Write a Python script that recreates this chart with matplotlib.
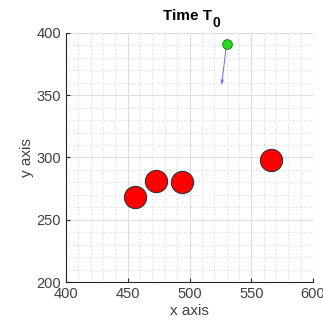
import matplotlib
matplotlib.use("Agg")
import matplotlib.pyplot as plt

# robot positions (red) and target (green) with its velocity arrow
robots_x = [456, 473, 494, 566]
robots_y = [268, 281, 280, 298]
target_x = [530]
target_y = [391]
arrow_dx = [-4]
arrow_dy = [-33]

plt.rcParams['font.family'] = ['Liberation Sans', 'DejaVu Sans']

fig = plt.figure(figsize=(3.23, 3.33), dpi=100)
ax = fig.add_axes([66 / 323, 1 - 282 / 333, 247 / 323, 249 / 333])

ax.set_xlim(400, 600)
ax.set_ylim(200, 400)
ax.set_xticks([400, 450, 500, 550, 600])
ax.set_yticks([200, 250, 300, 350, 400])
ax.set_xticks(range(400, 601, 10), minor=True)
ax.set_yticks(range(200, 401, 10), minor=True)
ax.grid(True, which='major', color='#dedede', linewidth=0.8)
ax.grid(True, which='minor', color='#cfcfcf', linewidth=0.6, linestyle=(0, (1, 2)))
ax.set_axisbelow(True)

for s in ['top', 'right']:
    ax.spines[s].set_visible(False)
for s in ['left', 'bottom']:
    ax.spines[s].set_color('#262626')
    ax.spines[s].set_linewidth(0.8)

ax.tick_params(which='major', direction='in', length=3, colors='#262626',
               labelsize=10.5, labelcolor='#404040')
ax.tick_params(which='minor', length=0)

ax.plot(robots_x, robots_y, 'o', markersize=16, markerfacecolor='red',
        markeredgecolor='#333333', markeredgewidth=0.8, linestyle='none')
ax.quiver(target_x, target_y, arrow_dx, arrow_dy, angles='xy', scale_units='xy',
          scale=1, color='#6b6bff', width=0.004, headwidth=4, headlength=7,
          headaxislength=5)
ax.plot(target_x, target_y, 'o', markersize=7, markerfacecolor='#22dd22',
        markeredgecolor='#117711', markeredgewidth=0.6)

ax.set_xlabel('x axis', fontsize=11, color='#404040', labelpad=2)
ax.set_ylabel('y axis', fontsize=11, color='#404040', labelpad=2)
fig.text(212 / 323, 1 - 20 / 333, 'Time T', fontsize=11, fontweight='bold',
         ha='right', va='baseline')
fig.text(213 / 323, 1 - 27 / 333, '0', fontsize=10, fontweight='bold',
         ha='left', va='baseline')

fig.savefig('out.png', dpi=100)
